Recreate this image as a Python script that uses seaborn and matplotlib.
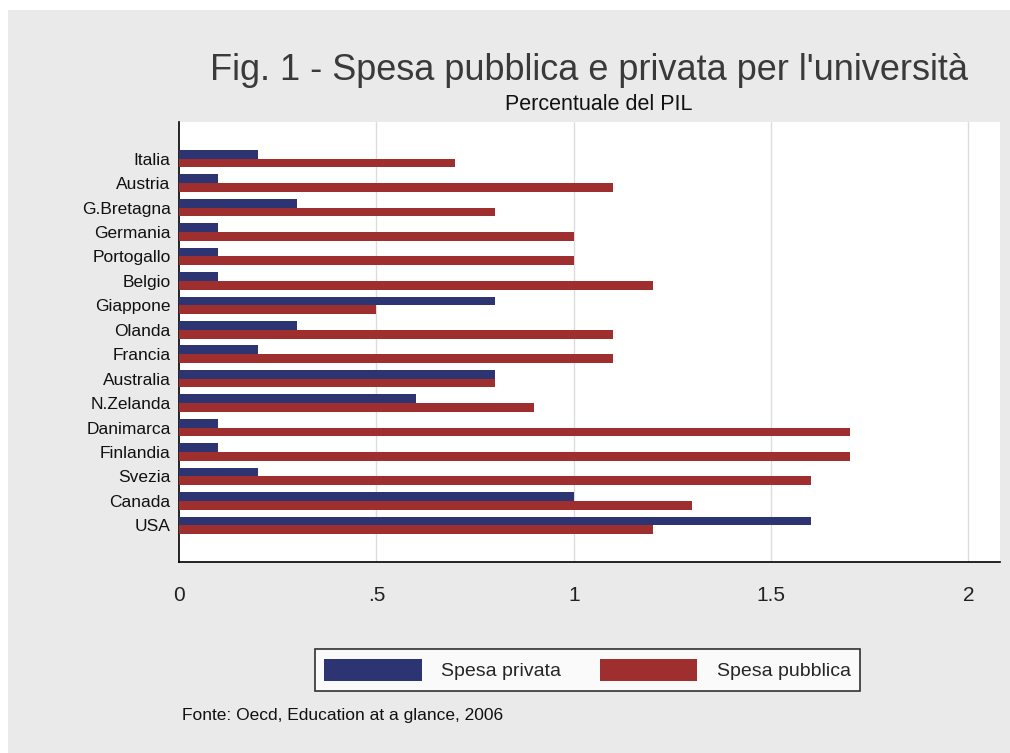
import pandas as pd
import seaborn as sns
import matplotlib.pyplot as plt
from matplotlib.patches import Rectangle, Patch

# Dati (% del PIL)
paesi = ['Italia', 'Austria', 'G.Bretagna', 'Germania', 'Portogallo', 'Belgio',
         'Giappone', 'Olanda', 'Francia', 'Australia', 'N.Zelanda', 'Danimarca',
         'Finlandia', 'Svezia', 'Canada', 'USA']
spesa_privata = [0.2, 0.1, 0.3, 0.1, 0.1, 0.1, 0.8, 0.3, 0.2, 0.8, 0.6, 0.1,
                 0.1, 0.2, 1.0, 1.6]
spesa_pubblica = [0.7, 1.1, 0.8, 1.0, 1.0, 1.2, 0.5, 1.1, 1.1, 0.8, 0.9, 1.7,
                  1.7, 1.6, 1.3, 1.2]
serie = ['Spesa privata', 'Spesa pubblica']
colori = ['#2c3472', '#9f2f2f']
x_ticks = [0, 0.5, 1, 1.5, 2]
x_labels = ['0', '.5', '1', '1.5', '2']

df = pd.DataFrame({'Paese': paesi, serie[0]: spesa_privata, serie[1]: spesa_pubblica})
long_df = df.melt(id_vars='Paese', value_vars=serie, var_name='Tipo', value_name='Valore')

sns.set_style('white')
plt.rcParams['font.family'] = ['Liberation Sans', 'DejaVu Sans']

fig = plt.figure(figsize=(10.1, 7.53), dpi=100, facecolor='white')
# sfondo grigio stile Stata
fig.patches.append(Rectangle((8 / 1010, 0), 1, 1 - 10 / 753, transform=fig.transFigure,
                             facecolor='#eaeaea', edgecolor='none', zorder=-10))

ax = fig.add_axes([179 / 1010, 1 - 562 / 753, (1000 - 179) / 1010, (562 - 122) / 753])
ax.set_facecolor('white')

sns.barplot(data=long_df, x='Valore', y='Paese', hue='Tipo', hue_order=serie,
            palette=colori, orient='h', width=0.72, gap=0, saturation=1,
            linewidth=0, legend=False, ax=ax, zorder=3)

ax.set_xlim(0, 2.08)
ax.set_ylim(len(paesi) - 1 + 1.5, -1.5)
ax.set_xticks(x_ticks)
ax.set_xticklabels(x_labels, fontsize=15, color='#222222')
ax.tick_params(axis='x', length=7, width=1, direction='out', color='black', pad=10)
ax.tick_params(axis='y', length=0, labelsize=12.5, pad=6, labelcolor='#111111')
for x in x_ticks[1:]:
    ax.axvline(x, color='#dcdcdc', lw=1, zorder=1)
ax.set_xlabel('')
ax.set_ylabel('')
for s in ['top', 'right']:
    ax.spines[s].set_visible(False)
for s in ['left', 'bottom']:
    ax.spines[s].set_color('black')
    ax.spines[s].set_linewidth(1.2)

fig.text(589 / 1010, 1 - 80 / 753, "Fig. 1 - Spesa pubblica e privata per l'università",
         ha='center', va='baseline', fontsize=26, color='#3a3a3a')
fig.text(599 / 1010, 1 - 110 / 753, 'Percentuale del PIL',
         ha='center', va='baseline', fontsize=15.5, color='#111111')

handles = [Patch(facecolor=c, edgecolor='none', label=l) for c, l in zip(colori, serie)]
leg = fig.legend(handles=handles, loc='center', ncol=2,
                 bbox_to_anchor=((277 + 898) / 2 / 1010, 1 - 670 / 753),
                 fontsize=14, frameon=True, fancybox=False, edgecolor='black',
                 facecolor='white', handlelength=5.0, handleheight=1.4,
                 columnspacing=2.0, handletextpad=1.0, borderpad=0.5)
leg.get_frame().set_linewidth(1.2)

fig.text(182 / 1010, 1 - 720 / 753, 'Fonte: Oecd, Education at a glance, 2006',
         ha='left', va='baseline', fontsize=12.5, color='#111111')

fig.savefig('out.png', dpi=100, facecolor='white')
